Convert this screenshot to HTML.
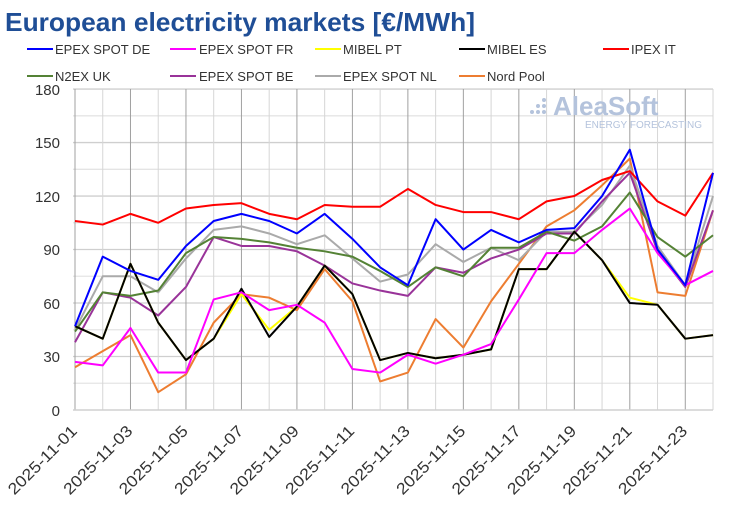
<!DOCTYPE html>
<html><head><meta charset="utf-8"><style>
body{margin:0;background:#fff;width:730px;height:509px;overflow:hidden;font-family:"Liberation Sans",sans-serif}
</style></head><body>
<svg width="730" height="509" xmlns="http://www.w3.org/2000/svg" font-family="Liberation Sans, sans-serif">
<text x="5" y="31" font-size="26" font-weight="bold" fill="#1f4e96" textLength="470" lengthAdjust="spacingAndGlyphs">European electricity markets [€/MWh]</text>
<g font-size="13" fill="#333">
<line x1="27" y1="49" x2="53" y2="49" stroke="#0000ff" stroke-width="2"/><text x="55" y="54">EPEX SPOT DE</text>
<line x1="170" y1="49" x2="196" y2="49" stroke="#ff00ff" stroke-width="2"/><text x="199" y="54">EPEX SPOT FR</text>
<line x1="315" y1="49" x2="341" y2="49" stroke="#ffff00" stroke-width="2"/><text x="343" y="54">MIBEL PT</text>
<line x1="459" y1="49" x2="485" y2="49" stroke="#000" stroke-width="2"/><text x="487" y="54">MIBEL ES</text>
<line x1="603" y1="49" x2="629" y2="49" stroke="#ff0000" stroke-width="2"/><text x="631" y="54">IPEX IT</text>
<line x1="27" y1="76" x2="53" y2="76" stroke="#548235" stroke-width="2"/><text x="55" y="81">N2EX UK</text>
<line x1="170" y1="76" x2="196" y2="76" stroke="#993399" stroke-width="2"/><text x="199" y="81">EPEX SPOT BE</text>
<line x1="315" y1="76" x2="341" y2="76" stroke="#aaaaaa" stroke-width="2"/><text x="343" y="81">EPEX SPOT NL</text>
<line x1="459" y1="76" x2="485" y2="76" stroke="#ed7d31" stroke-width="2"/><text x="487" y="81">Nord Pool</text>
</g>
<g id="grid"></g>
<g font-size="15" fill="#333" text-anchor="end">
<text x="60" y="95">180</text><text x="60" y="148">150</text><text x="60" y="202">120</text><text x="60" y="255">90</text><text x="60" y="309">60</text><text x="60" y="362">30</text><text x="60" y="416">0</text>
</g>
<text x="553" y="115" font-size="26" font-weight="bold" fill="#b4c3dc">AleaSoft</text>
<g fill="#b4c3dc"><circle cx="532" cy="112" r="2"/><circle cx="538" cy="112" r="2"/><circle cx="538" cy="106" r="2"/><circle cx="544" cy="112" r="2"/><circle cx="544" cy="106" r="2"/><circle cx="544" cy="100" r="2"/></g>
<text x="585" y="128" font-size="10" fill="#b4c3dc">ENERGY FORECASTING</text>
<g id="series" fill="none" stroke-width="2" stroke-linejoin="round"></g>
<g id="xl" font-size="16" fill="#333"></g>
</svg>
<script>
var ns="http://www.w3.org/2000/svg";
function el(p,t,a,txt){var e=document.createElementNS(ns,t);for(var k in a)e.setAttribute(k,a[k]);if(txt)e.textContent=txt;p.appendChild(e);return e;}
var g=document.getElementById("grid");
var X=function(i){return 75+i*27.74},Y=function(v){return 410-v*1.783};
for(var v=15;v<=180;v+=15)el(g,"line",{x1:73,x2:713,y1:Y(v),y2:Y(v),stroke:v%30?"#e4e4e4":"#cfcfcf","stroke-width":1.3});
for(var i=0;i<=23;i++)el(g,"line",{x1:X(i),x2:X(i),y1:89,y2:410,stroke:i%2?"#d6d6d6":"#a0a0a0","stroke-width":1});
el(g,"line",{x1:73,x2:713,y1:410,y2:410,stroke:"#d0d0d0","stroke-width":1.5});
var D={
"#ed7d31":[24,33,42,10,20,49,65,63,56,79,61,16,21,51,35,61,82,103,112,126,141,66,64,112],
"#aaaaaa":[45,75,75,66,85,101,103,99,93,98,85,72,76,93,83,91,84,100,100,115,137,92,70,120],
"#993399":[38,66,63,53,69,97,92,92,89,81,71,67,64,80,77,85,90,99,99,117,133,89,69,112],
"#548235":[44,66,64,67,88,97,96,94,91,89,86,78,69,80,75,91,91,100,95,103,122,97,86,98],
"#ff0000":[106,104,110,105,113,115,116,110,107,115,114,114,124,115,111,111,107,117,120,129,134,117,109,133],
"#ffff00":[47,40,82,49,28,40,65,45,58,81,65,28,32,29,31,34,79,79,100,84,63,59,40,42],
"#000000":[47,40,82,49,28,40,68,41,58,81,65,28,32,29,31,34,79,79,100,84,60,59,40,42],
"#ff00ff":[27,25,46,21,21,62,66,56,59,49,23,21,31,26,31,37,62,88,88,101,113,88,70,78],
"#0000ff":[47,86,78,73,92,106,110,106,99,110,96,80,70,107,90,101,94,101,102,120,146,90,70,133]};
var s=document.getElementById("series");
for(var c in D){el(s,"polyline",{stroke:c,points:D[c].map(function(v,i){return X(i)+","+Y(v)}).join(" ")});}
var xl=document.getElementById("xl");
for(var i=0;i<=22;i+=2){var d=i+1;var x=X(i)+3,y=432;el(xl,"text",{x:x,y:y,"text-anchor":"end",textLength:"90",lengthAdjust:"spacingAndGlyphs",transform:"rotate(-45 "+x+" "+y+")"},"2025-11-"+(d<10?"0":"")+d);}
</script>
</body></html>
